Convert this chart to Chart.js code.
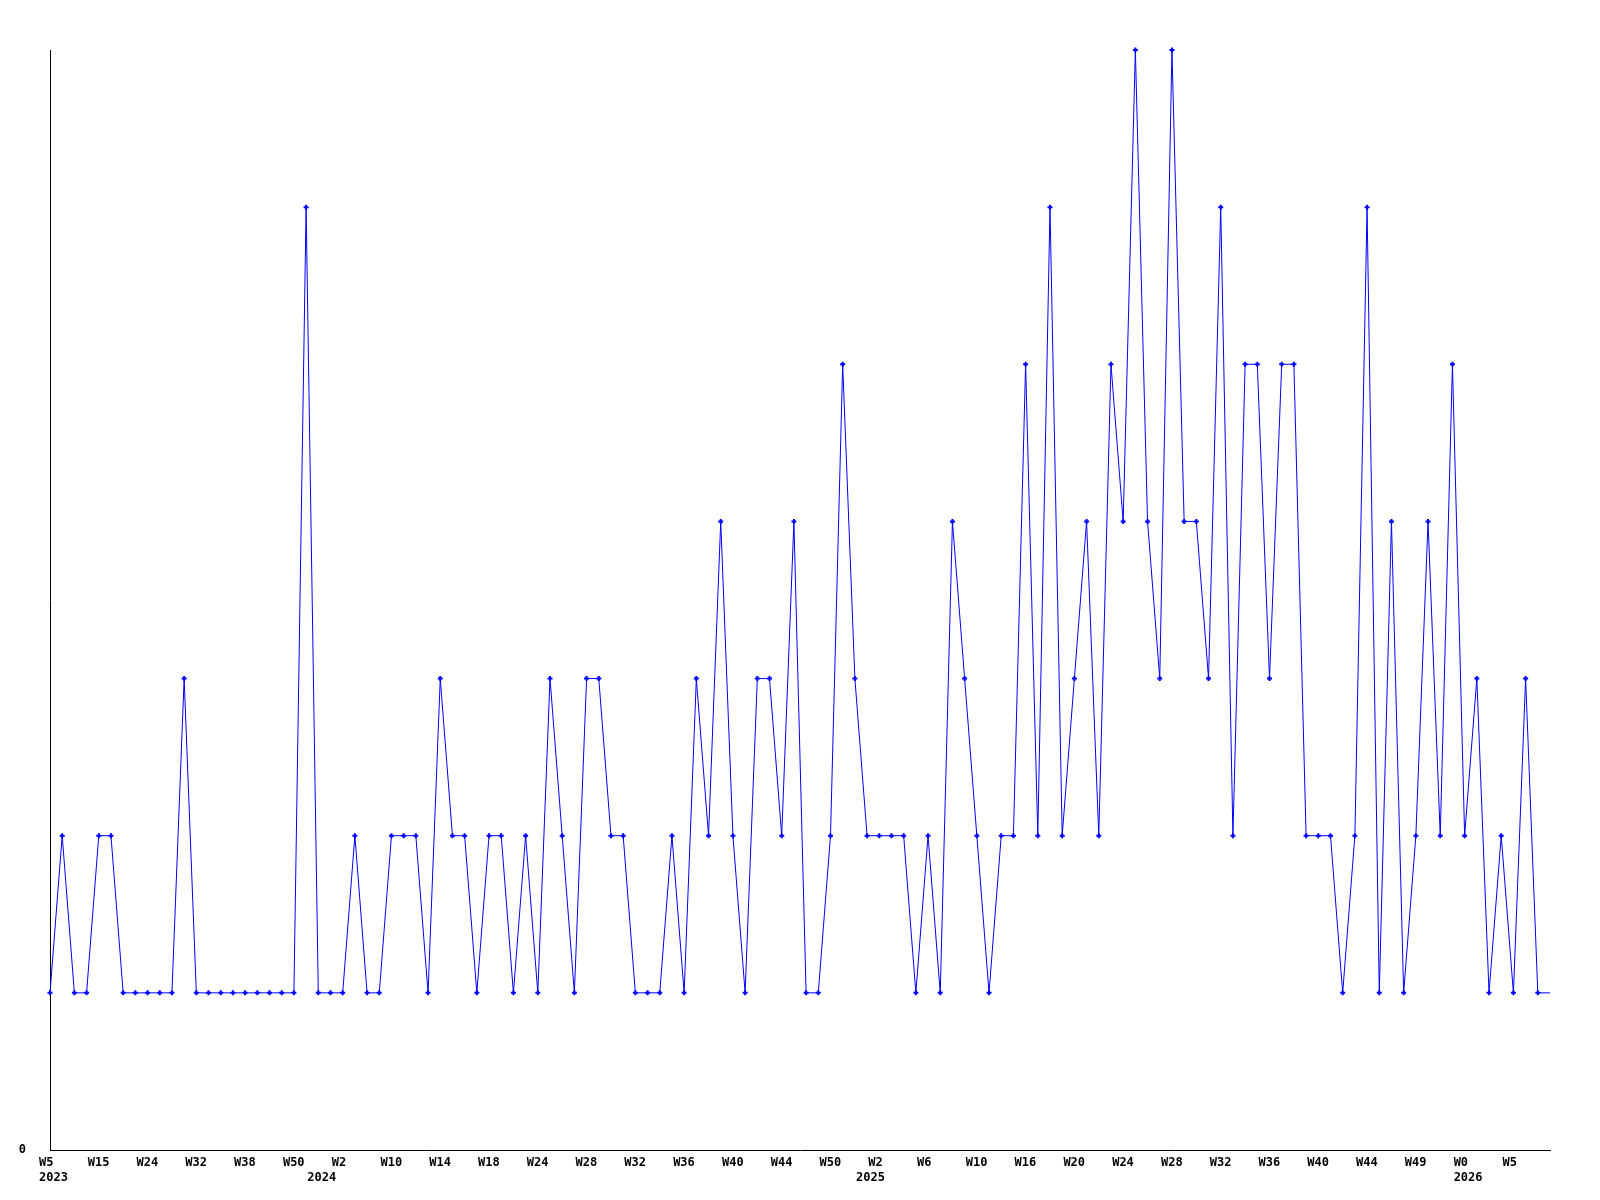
<!DOCTYPE html>
<html>
<head>
<meta charset="utf-8">
<title>Weekly chart</title>
<script src="https://cdn.jsdelivr.net/npm/chart.js@4.4.1/dist/chart.umd.min.js"></script>
<style>
    html, body { margin: 0; padding: 0; background: #ffffff; }
    #weeklyChart { display: block; }
</style>
</head>
<body>
<canvas id="weeklyChart" width="1600" height="1200"></canvas>
<script>
// Valores semanais (um por semana)
var weeklyValues = [
    1, 2, 1, 1, 2, 2, 1, 1, 1, 1,
    1, 3, 1, 1, 1, 1, 1, 1, 1, 1,
    1, 6, 1, 1, 1, 2, 1, 1, 2, 2,
    2, 1, 3, 2, 2, 1, 2, 2, 1, 2,
    1, 3, 2, 1, 3, 3, 2, 2, 1, 1,
    1, 2, 1, 3, 2, 4, 2, 1, 3, 3,
    2, 4, 1, 1, 2, 5, 3, 2, 2, 2,
    2, 1, 2, 1, 4, 3, 2, 1, 2, 2,
    5, 2, 6, 2, 3, 4, 2, 5, 4, 7,
    4, 3, 7, 4, 4, 3, 6, 2, 5, 5,
    3, 5, 5, 2, 2, 2, 1, 2, 6, 1,
    4, 1, 2, 4, 2, 5, 2, 3, 1, 2,
    1, 3, 1, 1
];

// Rótulos do eixo X (a cada 4 semanas)
var weekLabels = [
    'W5', 'W15', 'W24', 'W32', 'W38', 'W50', 'W2', 'W10', 'W14', 'W18',
    'W24', 'W28', 'W32', 'W36', 'W40', 'W44', 'W50', 'W2', 'W6', 'W10',
    'W16', 'W20', 'W24', 'W28', 'W32', 'W36', 'W40', 'W44', 'W49', 'W0', 'W5'
];
var weekLabelStep = 4;

// Anos e a semana onde aparecem
var yearLabels = ['2023', '2024', '2025', '2026'];
var yearPositions = [0, 22, 67, 116];

var yMax = 7;

document.addEventListener('DOMContentLoaded', function() {
    var points = weeklyValues.map(function(v, i) { return { x: i, y: v }; });
    var lastIndex = weeklyValues.length - 1;
    var tickFont = { family: "'DejaVu Sans Mono', monospace", size: 12, weight: 'bold' };

    var ctx = document.getElementById('weeklyChart').getContext('2d');
    var weeklyChart = new Chart(ctx, {
        type: 'line',
        data: {
            datasets: [{
                data: points,
                borderColor: '#0000ff',
                borderWidth: 1,
                tension: 0,
                fill: false,
                clip: false,
                pointStyle: 'cross',
                pointRadius: function(c) { return c.dataIndex === lastIndex ? 0 : 2.5; },
                pointBorderWidth: 2,
                pointBorderColor: '#0000ff',
                pointBackgroundColor: '#0000ff'
            }]
        },
        options: {
            responsive: false,
            animation: false,
            layout: { padding: { top: 50, right: 50, bottom: 0, left: 0 } },
            plugins: {
                legend: { display: false },
                tooltip: { enabled: false }
            },
            scales: {
                x: {
                    type: 'linear',
                    position: 'bottom',
                    min: 0,
                    max: lastIndex,
                    grid: { display: false, drawTicks: false },
                    border: { display: true, color: '#000000', width: 1 },
                    afterBuildTicks: function(axis) {
                        axis.ticks = weekLabels.map(function(_, i) { return { value: i * weekLabelStep }; });
                    },
                    afterFit: function(axis) { axis.height = 20; },
                    ticks: {
                        autoSkip: false,
                        maxRotation: 0,
                        align: 'start',
                        labelOffset: -11,
                        padding: 6,
                        color: '#000000',
                        font: tickFont,
                        callback: function(value) { return weekLabels[Math.round(value / weekLabelStep)]; }
                    }
                },
                years: {
                    type: 'linear',
                    position: 'bottom',
                    min: 0,
                    max: lastIndex,
                    grid: { display: false, drawTicks: false },
                    border: { display: false },
                    afterBuildTicks: function(axis) {
                        axis.ticks = yearPositions.map(function(p) { return { value: p }; });
                    },
                    afterFit: function(axis) { axis.height = 30; },
                    ticks: {
                        autoSkip: false,
                        maxRotation: 0,
                        align: 'start',
                        labelOffset: -11,
                        padding: 1,
                        color: '#000000',
                        font: tickFont,
                        callback: function(value) { return yearLabels[yearPositions.indexOf(value)]; }
                    }
                },
                y: {
                    min: 0,
                    max: yMax,
                    grid: { display: false, drawTicks: false },
                    border: { display: true, color: '#000000', width: 1 },
                    afterFit: function(axis) { axis.width = 50; },
                    ticks: {
                        stepSize: 1,
                        padding: 24,
                        color: '#000000',
                        font: tickFont,
                        callback: function(value) { return value === 0 ? '0' : ''; }
                    }
                }
            }
        }
    });
});
</script>
</body>
</html>
